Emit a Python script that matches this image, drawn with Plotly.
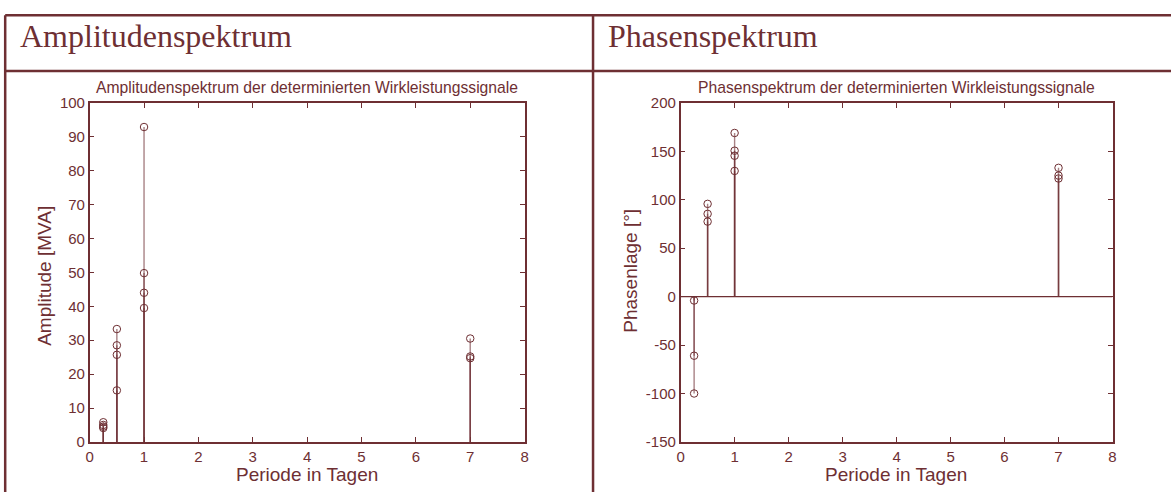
import plotly.graph_objects as go

# Periods of the deterministic components (days)
periods = [0.25, 0.5, 1, 7]

# Amplitude values per period [MVA]
amp_quarter_day = [5.8, 5.0, 4.5, 4.1]
amp_half_day = [33.3, 28.5, 25.7, 15.2]
amp_day = [92.9, 49.8, 44.0, 39.5]
amp_week = [30.5, 25.2, 24.7]

# Phase values per period [deg]
phase_quarter_day = [-4, -61, -100]
phase_half_day = [95.8, 85.5, 77.5]
phase_day = [169, 150.7, 145.5, 129.8]
phase_week = [133, 125, 122]

x_ticks = [0, 1, 2, 3, 4, 5, 6, 7, 8]
amp_ticks = [0, 10, 20, 30, 40, 50, 60, 70, 80, 90, 100]
phase_ticks = [-150, -100, -50, 0, 50, 100, 150, 200]

# Figure size and the page's default body margin around the plot div
W, H, PAD = 1175, 500, 8
# The whole page (figure + margins) is shown at 1175 x 500
SX = 1175 / (W + 2 * PAD)
SY = 500 / (H + 2 * PAD)

C = "#6e2f33"
STEM = "rgba(110,47,51,0.6)"
SANS = "Liberation Sans, Arial, sans-serif"
SERIF = "Liberation Serif, Times New Roman, serif"


def px(x):
    """Displayed x (pixels) -> paper fraction."""
    return min(max((x / SX - PAD) / W, 0.0), 1.0)


def py(y):
    """Displayed y (pixels from top) -> paper fraction."""
    return min(max(1 - (y / SY - PAD) / H, 0.0), 1.0)


fig = go.Figure()


def add_stems(xa, ya, groups):
    for period, values in zip(periods, groups):
        for v in values:
            fig.add_trace(go.Scatter(
                x=[period, period], y=[0, v], mode="lines",
                line=dict(color=STEM, width=1.4),
                xaxis=xa, yaxis=ya, showlegend=False, hoverinfo="skip"))
        fig.add_trace(go.Scatter(
            x=[period] * len(values), y=values, mode="markers",
            marker=dict(symbol="circle-open", size=7.5, color=C, line=dict(width=1)),
            xaxis=xa, yaxis=ya, showlegend=False))


add_stems("x", "y", [amp_quarter_day, amp_half_day, amp_day, amp_week])
add_stems("x2", "y2", [phase_quarter_day, phase_half_day, phase_day, phase_week])

# Stem baseline for the phase plot
fig.add_trace(go.Scatter(x=[x_ticks[0], x_ticks[-1]], y=[0, 0], mode="lines",
                         line=dict(color=C, width=1.2), xaxis="x2", yaxis="y2",
                         showlegend=False, hoverinfo="skip"))

ax_common = dict(
    showgrid=False, zeroline=False, showline=True, linecolor=C, linewidth=1.5,
    mirror="ticks", ticks="inside", ticklen=5, tickcolor=C,
    tickfont=dict(family=SANS, size=15, color=C),
)

fig.update_layout(
    width=W, height=H,
    margin=dict(l=0, r=0, t=0, b=0),
    paper_bgcolor="white", plot_bgcolor="white",
    xaxis=dict(domain=[px(93), px(525)], range=[0, 8], tickvals=x_ticks,
               anchor="y", **ax_common),
    yaxis=dict(domain=[py(442), py(102)], range=[0, 100], tickvals=amp_ticks,
               anchor="x", **ax_common),
    xaxis2=dict(domain=[px(680), px(1109)], range=[0, 8], tickvals=x_ticks,
                anchor="y2", **ax_common),
    yaxis2=dict(domain=[py(442), py(102)], range=[-150, 200], tickvals=phase_ticks,
                ticktext=[str(t) for t in phase_ticks],
                anchor="x2", **ax_common),
)

# Page frame: header row and column divider
left = max(px(7), 1.2 / W)
frame = [
    (left, py(14), 1.0, py(14)),
    (left, py(70), 1.0, py(70)),
    (left, py(14), left, 0.0),
    (px(593), py(14), px(593), 0.0),
]
for x0, y0, x1, y1 in frame:
    fig.add_shape(type="line", xref="paper", yref="paper", x0=x0, y0=y0, x1=x1, y1=y1,
                  line=dict(color=C, width=2.5))


def text(s, x, y, size, family=SANS, xanchor="center", angle=0):
    fig.add_annotation(text=s, xref="paper", yref="paper", x=px(x), y=py(y),
                       xanchor=xanchor, yanchor="middle", showarrow=False,
                       textangle=angle, font=dict(family=family, size=size, color=C))


# Header row
text("Amplitudenspektrum", 22, 35, 32, SERIF, xanchor="left")
text("Phasenspektrum", 606, 35, 32, SERIF, xanchor="left")

# Plot titles
text("Amplitudenspektrum der determinierten Wirkleistungssignale", 309, 86, 15.7)
text("Phasenspektrum der determinierten Wirkleistungssignale", 894, 86, 15.7)

# Axis titles
text("Periode in Tagen", 309, 475, 19)
text("Periode in Tagen", 894, 475, 19)
text("Amplitude [MVA]", 48, 275, 19, angle=-90)
text("Phasenlage [°]", 630, 270, 19, angle=-90)

fig.write_html("out.html")
